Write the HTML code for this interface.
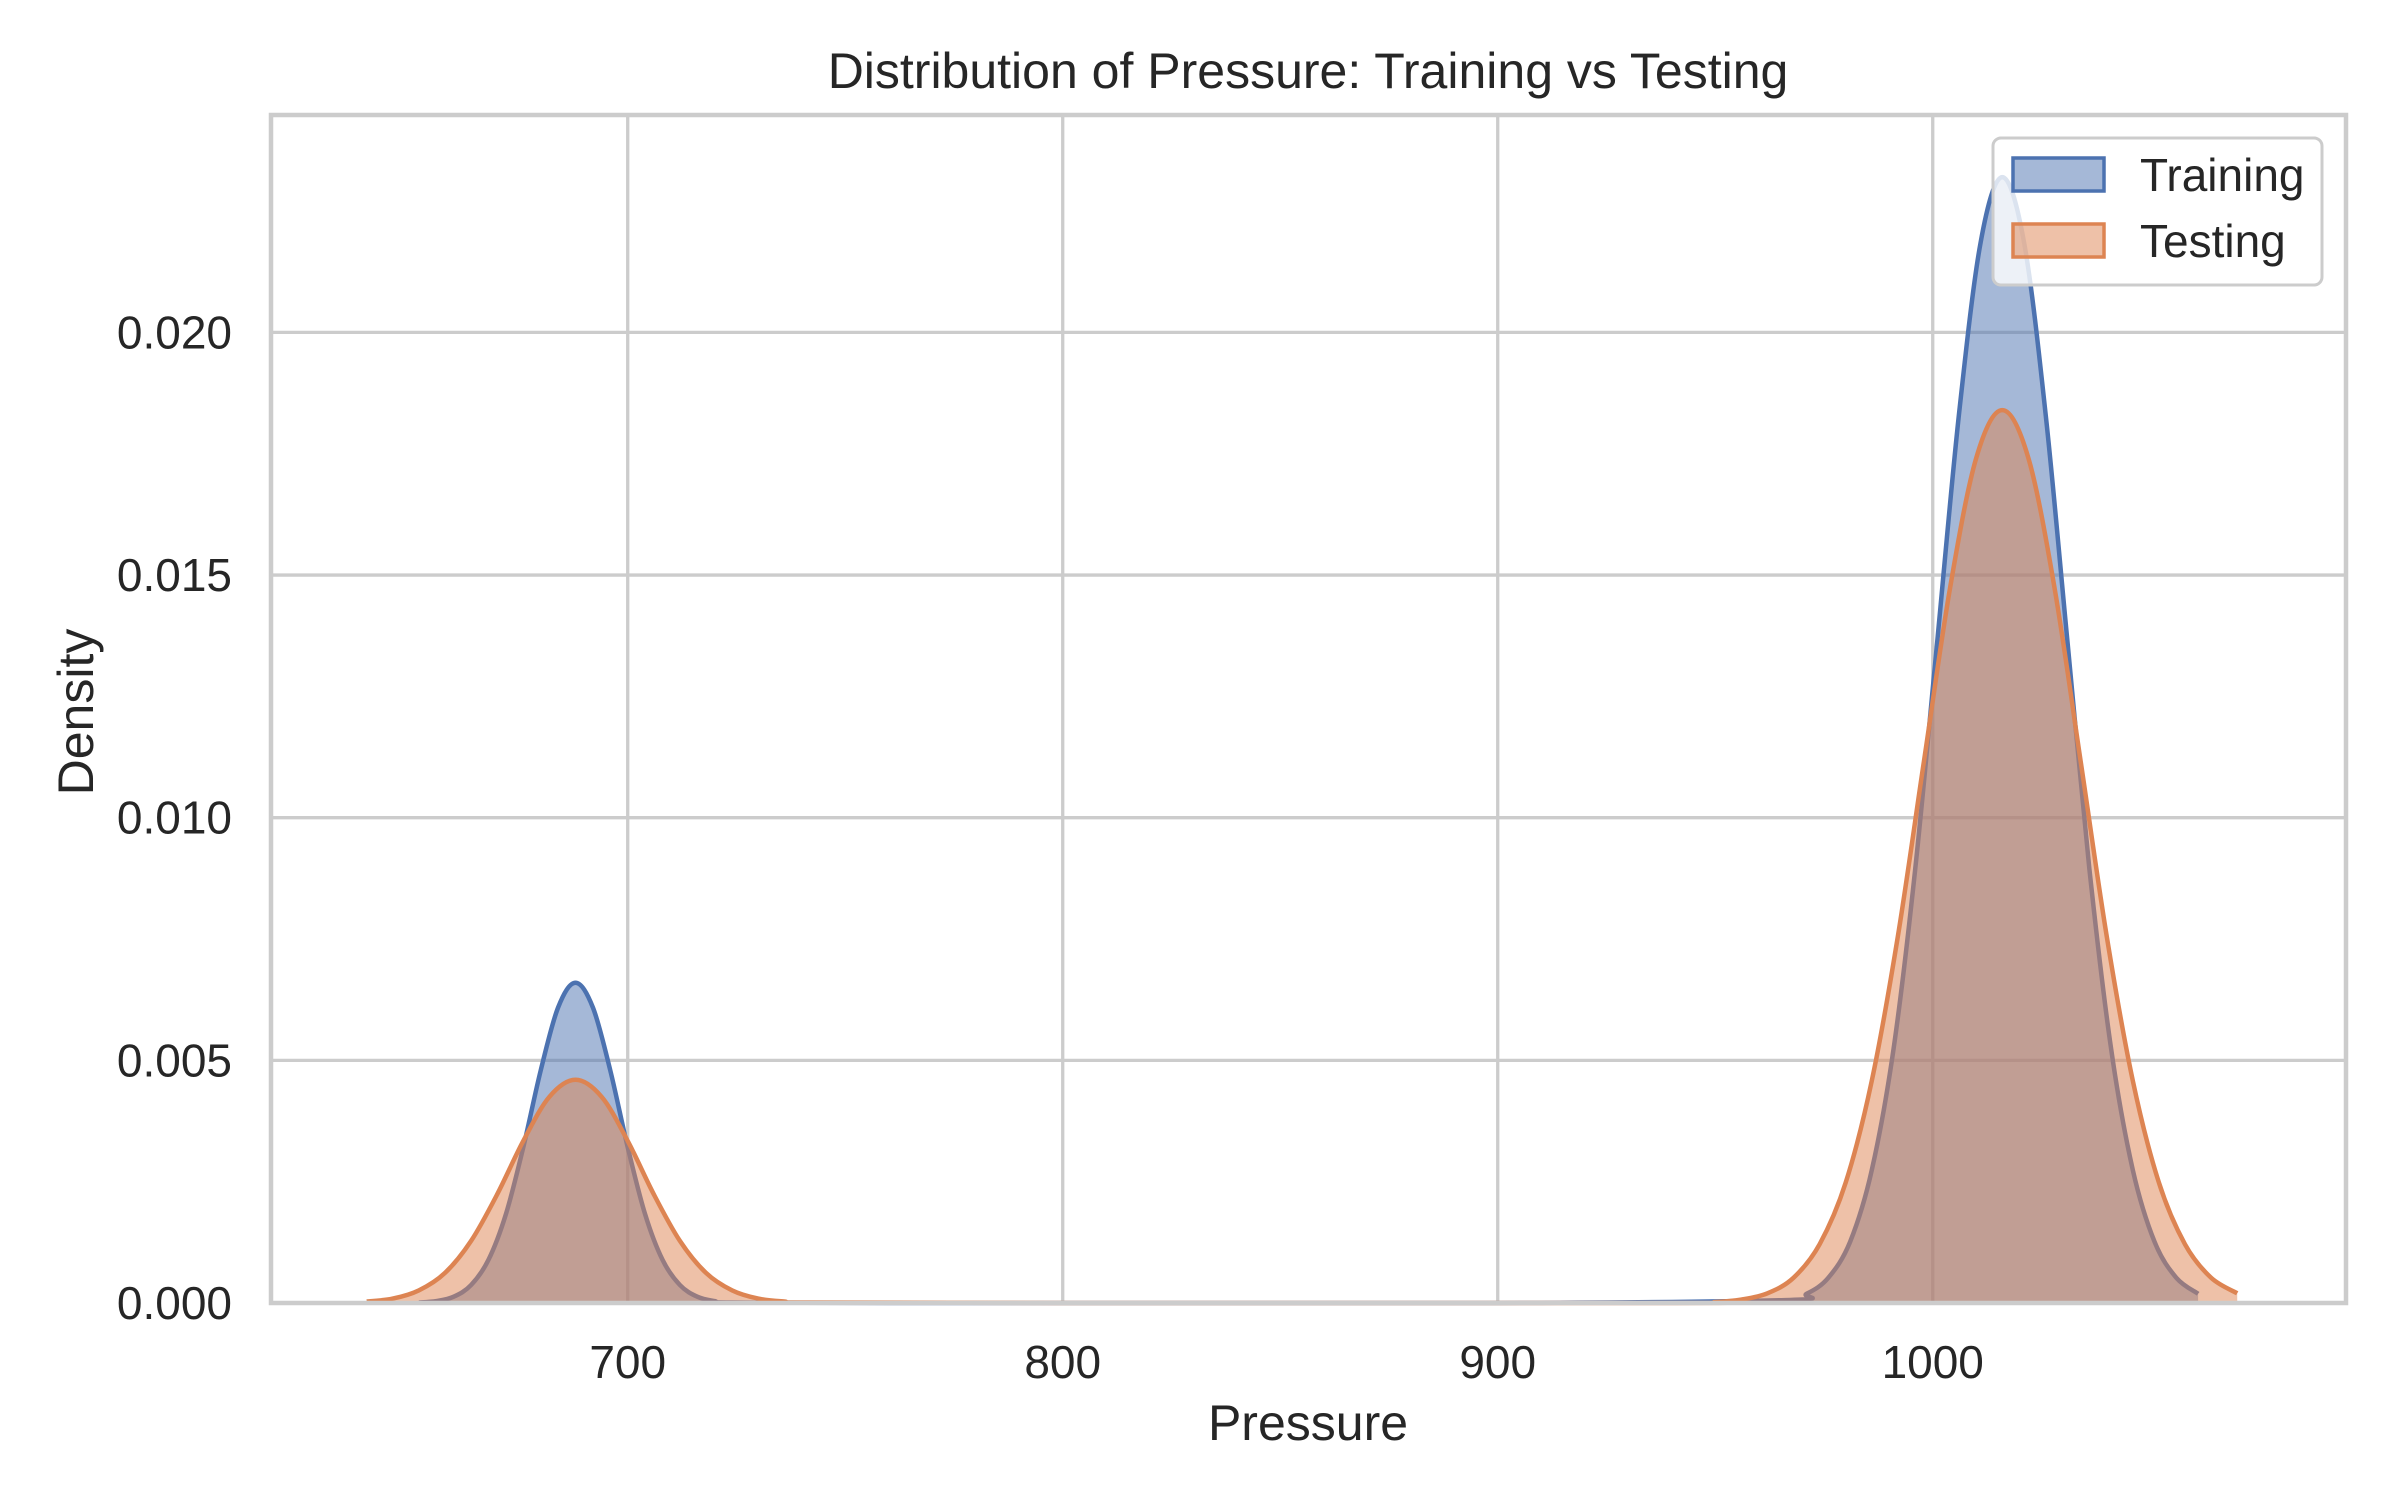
<!DOCTYPE html>
<html><head><meta charset="utf-8"><style>
html,body{margin:0;padding:0;background:#fff}
svg{display:block}
text{font-family:"Liberation Sans",sans-serif;fill:#262626}
</style></head><body>
<svg id="chart" width="2400" height="1500" viewBox="0 0 2400 1500" xmlns="http://www.w3.org/2000/svg">
<rect x="271" y="115" width="2075" height="1188" fill="#fff"/>
<g id="grid"></g>
<g id="series"></g>
<rect x="271" y="115" width="2075" height="1188" fill="none" stroke="#cccccc" stroke-width="4.5"/>
<g id="ticks"></g>
<text x="1308" y="88" font-size="50" text-anchor="middle">Distribution of Pressure: Training vs Testing</text>
<text x="1308" y="1440" font-size="50" text-anchor="middle">Pressure</text>
<text x="0" y="0" font-size="50" text-anchor="middle" transform="translate(93,712) rotate(-90)">Density</text>
<g>
<rect x="1993" y="138" width="329" height="147" rx="8" fill="#fff" fill-opacity="0.8" stroke="#cccccc" stroke-width="3"/>
<g>
<rect x="2013" y="158" width="91" height="33" fill="#4c72b0" fill-opacity="0.5" stroke="#4c72b0" stroke-width="3.5"/>
<text x="2140" y="191" font-size="46">Training</text>
</g>
<g>
<rect x="2013" y="224" width="91" height="33" fill="#dd8452" fill-opacity="0.5" stroke="#dd8452" stroke-width="3.5"/>
<text x="2140" y="257" font-size="46">Testing</text>
</g>
</g>
</svg>
<script>
const xTicks = [700, 800, 900, 1000];
const yTicks = [0, 0.005, 0.010, 0.015, 0.020];
const yTickLabels = ["0.000", "0.005", "0.010", "0.015", "0.020"];
const trainX = [652,656,660,664,668,672,676,680,684,688,692,696,700,704,708,712,716,720,724,760,900,966,971,976,981,986,991,996,1001,1006,1011,1016,1021,1026,1031,1036,1041,1046,1051,1056,1061];
const trainY = [0.00001,0.00004,0.00013,0.00037,0.00089,0.00183,0.00321,0.00479,0.00609,0.0066,0.00609,0.00479,0.00321,0.00183,0.00089,0.00037,0.00013,0.00004,0.00001,0,0,0.00006,0.00019,0.00052,0.00126,0.00274,0.00524,0.00896,0.0136,0.01828,0.02185,0.0232,0.02185,0.01828,0.0136,0.00896,0.00524,0.00274,0.00126,0.00052,0.00019];
const testX = [640,646,652,658,664,670,676,682,688,694,700,706,712,718,724,730,736,742,800,940,950,956,962,968,974,980,986,992,998,1004,1010,1016,1022,1028,1034,1040,1046,1052,1058,1064,1070];
const testY = [0.00003,0.00009,0.00026,0.00062,0.00128,0.00224,0.00334,0.00425,0.0046,0.00425,0.00334,0.00224,0.00128,0.00062,0.00026,0.00009,0.00003,0.00001,0,0,0.00002,0.00007,0.0002,0.00052,0.00121,0.00248,0.00458,0.00756,0.01117,0.01474,0.01741,0.0184,0.01741,0.01474,0.01117,0.00756,0.00458,0.00248,0.00121,0.00052,0.0002];

const L=271,R=2346,T=115,B=1303;
const xMin=618, xMax=1095, yMin=0, yMax=0.02448;
const sx=v=>L+(v-xMin)/(xMax-xMin)*(R-L);
const sy=v=>B-(v-yMin)/(yMax-yMin)*(B-T);
const NS="http://www.w3.org/2000/svg";
const grid=document.getElementById('grid'), ticks=document.getElementById('ticks'), series=document.getElementById('series');
function mk(tag,attrs){const e=document.createElementNS(NS,tag);for(const k in attrs)e.setAttribute(k,attrs[k]);return e;}
xTicks.forEach(v=>{
  const g=mk('line',{x1:sx(v),x2:sx(v),y1:T,y2:B,stroke:'#cccccc','stroke-width':3.3});
  
  
  grid.appendChild(g);
  const t=mk('text',{x:sx(v),y:1378,'font-size':46,'text-anchor':'middle'});
  
  
  t.textContent=v;ticks.appendChild(t);
});
yTicks.forEach((v,i)=>{
  const g=mk('line',{x1:L,x2:R,y1:sy(v),y2:sy(v),stroke:'#cccccc','stroke-width':3.3});
  
  
  grid.appendChild(g);
  const t=mk('text',{x:232,y:sy(v)+16,'font-size':46,'text-anchor':'end'});
  
  
  t.textContent=yTickLabels[i];ticks.appendChild(t);
});
function smoothPath(pts){
  let d='M'+pts[0][0].toFixed(1)+','+pts[0][1].toFixed(1);
  for(let i=0;i<pts.length-1;i++){
    const p0=pts[Math.max(0,i-1)],p1=pts[i],p2=pts[i+1],p3=pts[Math.min(pts.length-1,i+2)];
    let c1x=p1[0]+(p2[0]-p0[0])/6,c1y=p1[1]+(p2[1]-p0[1])/6;
    let c2x=p2[0]-(p3[0]-p1[0])/6,c2y=p2[1]-(p3[1]-p1[1])/6;
    c1y=Math.min(c1y,B);c2y=Math.min(c2y,B);
    d+='C'+c1x.toFixed(1)+','+c1y.toFixed(1)+' '+c2x.toFixed(1)+','+c2y.toFixed(1)+' '+p2[0].toFixed(1)+','+p2[1].toFixed(1);
  }
  return d;
}
function draw(xs,ys,color,name){
  const pts=xs.map((x,i)=>[sx(x),sy(ys[i])]);
  const d=smoothPath(pts);
  const fill=mk('path',{d:d+'L'+sx(xs[xs.length-1])+','+sy(0)+'L'+sx(xs[0])+','+sy(0)+'Z',fill:color,'fill-opacity':0.5,stroke:'none'});
  
  
  series.appendChild(fill);
  const line=mk('path',{d:d,fill:'none',stroke:color,'stroke-width':4.5,'stroke-linejoin':'round'});
  
  
  series.appendChild(line);
}
draw(trainX,trainY,'#4c72b0','training-kde');
draw(testX,testY,'#dd8452','testing-kde');
</script>
</body></html>
